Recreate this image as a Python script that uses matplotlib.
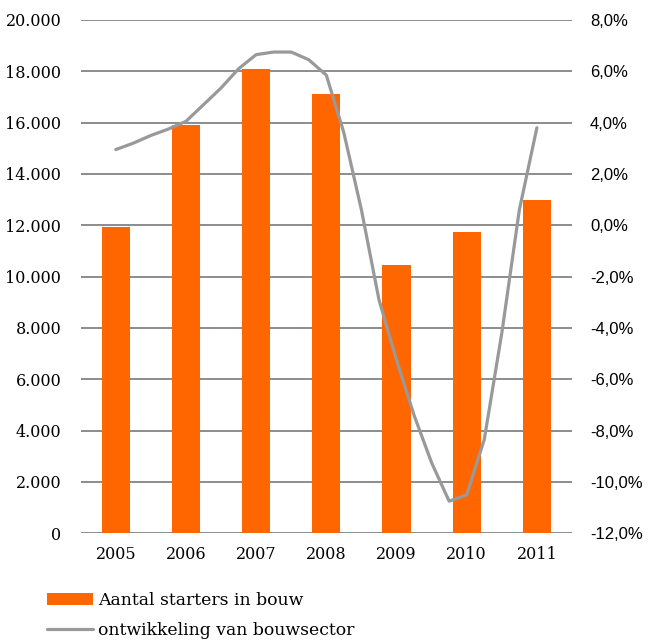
import matplotlib.pyplot as plt
import numpy as np
from matplotlib.ticker import FuncFormatter

# data
jaren = ['2005', '2006', '2007', '2008', '2009', '2010', '2011']
starters = [11950, 15900, 18100, 17100, 10450, 11750, 13000]

ontwikkeling = [2.95, 3.2, 3.5, 3.75, 4.05, 4.7, 5.35, 6.1, 6.65, 6.75, 6.75, 6.45,
                5.85, 3.6, 0.6, -2.9, -5.25, -7.4, -9.25, -10.75, -10.5, -8.35,
                -4.2, 0.6, 3.8]

oranje = '#FF6600'
grijs = '#999999'
serif = 'DejaVu Serif'
sans = 'Liberation Sans'

fig = plt.figure(figsize=(6.57, 6.44), dpi=100)
ax = fig.add_axes([0.1228, 0.1719, 0.7478, 0.7971])
ax2 = ax.twinx()

x = np.arange(len(jaren))
bars = ax.bar(x, starters, width=0.4, color=oranje, zorder=2)

xq = np.arange(len(ontwikkeling)) * 0.25
lijn, = ax2.plot(xq, ontwikkeling, color=grijs, lw=2.3, zorder=3,
                 solid_joinstyle='round', solid_capstyle='round')

ax.set_xlim(-0.5, 6.5)
ax.set_ylim(0, 20000)
ax.set_yticks(np.arange(0, 20001, 2000))
ax.yaxis.set_major_formatter(FuncFormatter(lambda v, p: f'{int(v):,}'.replace(',', '.')))
ax2.set_ylim(-12, 8)
ax2.set_yticks(np.arange(-12, 8.1, 2))
ax2.yaxis.set_major_formatter(FuncFormatter(lambda v, p: f'{v:.1f}%'.replace('.', ',')))

ax.set_xticks(x)
ax.set_xticklabels(jaren)

ax.grid(axis='y', color='#6e6e6e', lw=1.1, zorder=1)
ax.set_axisbelow(True)

for a in (ax, ax2):
    for s in a.spines.values():
        s.set_visible(False)

ax.tick_params(axis='both', length=0)
ax.tick_params(axis='y', pad=14)
ax.tick_params(axis='x', pad=9)
ax2.tick_params(axis='y', length=0, pad=13)

for t in ax.get_yticklabels() + ax.get_xticklabels():
    t.set_fontfamily(serif)
    t.set_fontsize(11.5)
for t in ax2.get_yticklabels():
    t.set_fontfamily(sans)
    t.set_fontsize(12)

fig.legend([bars, lijn], ['Aantal starters in bouw', 'ontwikkeling van bouwsector'],
           loc='upper left', bbox_to_anchor=(0.072, 0.080),
           frameon=False, handlelength=2.64, handletextpad=0.33,
           labelspacing=0.74, borderaxespad=0, borderpad=0,
           prop={'family': serif, 'size': 12.4})

fig.savefig('out.png', dpi=100)
